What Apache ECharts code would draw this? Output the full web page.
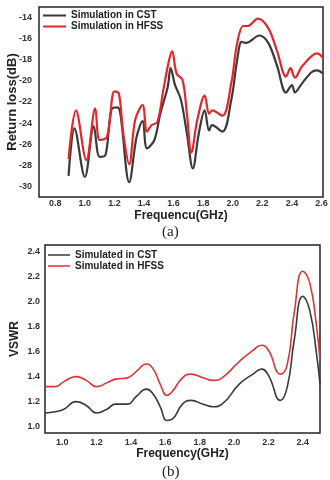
<!DOCTYPE html>
<html lang="en">
<head>
    <meta charset="UTF-8">
    <script src="https://cdn.jsdelivr.net/npm/echarts@6.0.0/dist/echarts.min.js"></script>
    <title>Return loss / VSWR</title>
</head>
<body style="margin:0">
<div id="main" style="width:330px; height:480px"></div>
<script>
    // (a) return loss
    var rlTicksX = [0.8, 1.0, 1.2, 1.4, 1.6, 1.8, 2.0, 2.2, 2.4, 2.6];
    var rlTicksY = [-30, -28, -26, -24, -22, -20, -18, -16, -14];
    var cstRlFreq = [0.89,0.93,1.0,1.06,1.10,1.14,1.18,1.22,1.24,1.30,1.35,1.39,1.42,1.47,1.51,1.56,1.58,1.61,1.65,1.69,1.73,1.77,1.81,1.84,1.86,1.93,1.99,2.03,2.06,2.09,2.18,2.24,2.30,2.36,2.40,2.42,2.46,2.53,2.57,2.61];
    var cstRl = [-29.0,-24.5,-29.1,-24.3,-27.2,-27.0,-22.7,-22.5,-23.1,-29.6,-25.3,-23.8,-26.4,-25.6,-23.1,-20.6,-18.8,-20.4,-21.8,-25.0,-28.3,-25.0,-22.8,-24.7,-24.2,-24.8,-21.8,-18.0,-16.3,-16.4,-15.7,-16.4,-18.6,-21.1,-20.4,-21.1,-20.4,-19.2,-19.0,-19.3];
    var hfssRlFreq = [0.89,0.94,1.01,1.07,1.10,1.15,1.20,1.23,1.26,1.30,1.34,1.39,1.42,1.45,1.49,1.53,1.57,1.59,1.62,1.66,1.69,1.72,1.76,1.81,1.84,1.86,1.93,1.99,2.03,2.07,2.10,2.17,2.24,2.30,2.36,2.39,2.42,2.47,2.57,2.61];
    var hfssRl = [-27.4,-22.8,-27.5,-22.6,-25.6,-25.3,-21.0,-21.2,-25.0,-27.9,-23.7,-22.3,-24.8,-24.2,-23.9,-20.9,-18.0,-17.2,-19.3,-19.9,-23.1,-26.8,-23.7,-21.4,-23.1,-22.8,-23.3,-20.2,-16.4,-14.8,-14.8,-14.1,-15.0,-17.2,-19.6,-18.8,-19.7,-18.6,-17.4,-17.8];

    // (b) VSWR
    var vswrTicksX = [1.0, 1.2, 1.4, 1.6, 1.8, 2.0, 2.2, 2.4];
    var vswrTicksY = [1.0, 1.2, 1.4, 1.6, 1.8, 2.0, 2.2, 2.4];
    var vswrFreq = [0.90,0.96,1.01,1.08,1.14,1.20,1.26,1.31,1.38,1.43,1.49,1.53,1.57,1.61,1.64,1.70,1.75,1.82,1.88,1.93,2.03,2.11,2.16,2.20,2.27,2.31,2.35,2.40,2.44,2.48,2.50];
    var cstVswr = [1.11,1.12,1.14,1.20,1.17,1.11,1.14,1.18,1.18,1.24,1.30,1.26,1.16,1.05,1.06,1.18,1.21,1.18,1.16,1.18,1.34,1.42,1.46,1.41,1.21,1.32,1.69,2.04,1.93,1.58,1.34];
    var hfssVswr = [1.32,1.32,1.36,1.40,1.37,1.32,1.35,1.38,1.39,1.44,1.50,1.46,1.34,1.25,1.28,1.39,1.42,1.39,1.37,1.39,1.52,1.61,1.65,1.61,1.42,1.50,1.91,2.24,2.15,1.80,1.53];

    function zip(xs, ys) {
        var out = [];
        for (var i = 0; i < xs.length; i++) out.push([xs[i], ys[i]]);
        return out;
    }

    var font = 'Liberation Sans';
    var tickLabel = {fontFamily: font, fontSize: 9, fontWeight: 'bold', color: '#333'};
    var axisName = {fontFamily: font, fontSize: 12, fontWeight: 'bold', color: '#222'};
    var legendText = {fontFamily: font, fontSize: 10, fontWeight: 'bold', color: '#222', lineHeight: 11};

    var chart = echarts.init(document.getElementById('main'));

    var option = {
        animation: false,
        backgroundColor: '#fff',
        title: [
            {text: '(a)', left: 157, top: 220, textStyle: {fontFamily: 'Liberation Serif', fontSize: 15, fontWeight: 'normal', color: '#222'}},
            {text: '(b)', left: 157, top: 460, textStyle: {fontFamily: 'Liberation Serif', fontSize: 15, fontWeight: 'normal', color: '#222'}}
        ],
        legend: [
            {
                data: ['Simulation in CST', 'Simulation in HFSS'],
                orient: 'vertical', left: 43, top: 10, padding: 0,
                icon: 'rect', itemWidth: 23, itemHeight: 2, itemGap: 0,
                textStyle: legendText
            },
            {
                data: ['Simulated in CST', 'Simulated in HFSS'],
                orient: 'vertical', left: 48, top: 249.5, padding: 0,
                icon: 'rect', itemWidth: 22, itemHeight: 1.5, itemGap: 0,
                textStyle: legendText
            }
        ],
        grid: [
            {left: 39, right: 7, top: 7, height: 190, outerBoundsMode: 'none', show: true, borderColor: '#222', borderWidth: 1.5},
            {left: 45, right: 10, top: 245, height: 188, outerBoundsMode: 'none', show: true, borderColor: '#222', borderWidth: 1.5}
        ],
        xAxis: [
            {
                type: 'value', gridIndex: 0, min: 0.69, max: 2.61,
                name: 'Frequencu(GHz)', nameLocation: 'middle', nameGap: 13, nameMoveOverlap: false, nameTextStyle: axisName,
                axisLine: {show: false}, axisTick: {show: false}, splitLine: {show: false},
                axisLabel: Object.assign({customValues: rlTicksX, margin: 2, formatter: function (v) { return v.toFixed(1); }}, tickLabel)
            },
            {
                type: 'value', gridIndex: 1, min: 0.9, max: 2.5,
                name: 'Frequency(GHz)', nameLocation: 'middle', nameGap: 15, nameMoveOverlap: false, nameTextStyle: axisName,
                axisLine: {show: false}, axisTick: {show: false}, splitLine: {show: false},
                axisLabel: Object.assign({customValues: vswrTicksX, margin: 5, formatter: function (v) { return v.toFixed(1); }}, tickLabel)
            }
        ],
        yAxis: [
            {
                type: 'value', gridIndex: 0, min: -31, max: -13,
                name: 'Return loss(dB)', nameLocation: 'middle', nameGap: 20, nameMoveOverlap: false,
                nameTextStyle: Object.assign({}, axisName, {fontSize: 13}),
                axisLine: {show: false}, axisTick: {show: false}, splitLine: {show: false},
                axisLabel: Object.assign({customValues: rlTicksY, margin: 7}, tickLabel)
            },
            {
                type: 'value', gridIndex: 1, min: 0.95, max: 2.45,
                name: 'VSWR', nameLocation: 'middle', nameGap: 24, nameMoveOverlap: false, nameTextStyle: axisName,
                axisLine: {show: false}, axisTick: {show: false}, splitLine: {show: false},
                axisLabel: Object.assign({customValues: vswrTicksY, margin: 5, formatter: function (v) { return v.toFixed(1); }}, tickLabel)
            }
        ],
        series: [
            {
                name: 'Simulation in CST', type: 'line', xAxisIndex: 0, yAxisIndex: 0,
                data: zip(cstRlFreq, cstRl), smooth: 0.35, showSymbol: false,
                itemStyle: {color: '#3a3a3a'}, lineStyle: {color: '#3a3a3a', width: 2.2}
            },
            {
                name: 'Simulation in HFSS', type: 'line', xAxisIndex: 0, yAxisIndex: 0,
                data: zip(hfssRlFreq, hfssRl), smooth: 0.35, showSymbol: false,
                itemStyle: {color: '#e3262d'}, lineStyle: {color: '#e3262d', width: 2.2}
            },
            {
                name: 'Simulated in CST', type: 'line', xAxisIndex: 1, yAxisIndex: 1,
                data: zip(vswrFreq, cstVswr), smooth: 0.5, showSymbol: false,
                itemStyle: {color: '#3a3a3a'}, lineStyle: {color: '#3a3a3a', width: 1.6}
            },
            {
                name: 'Simulated in HFSS', type: 'line', xAxisIndex: 1, yAxisIndex: 1,
                data: zip(vswrFreq, hfssVswr), smooth: 0.5, showSymbol: false,
                itemStyle: {color: '#d9363b'}, lineStyle: {color: '#d9363b', width: 1.6}
            }
        ]
    };

    chart.setOption(option);
</script>
</body>
</html>
